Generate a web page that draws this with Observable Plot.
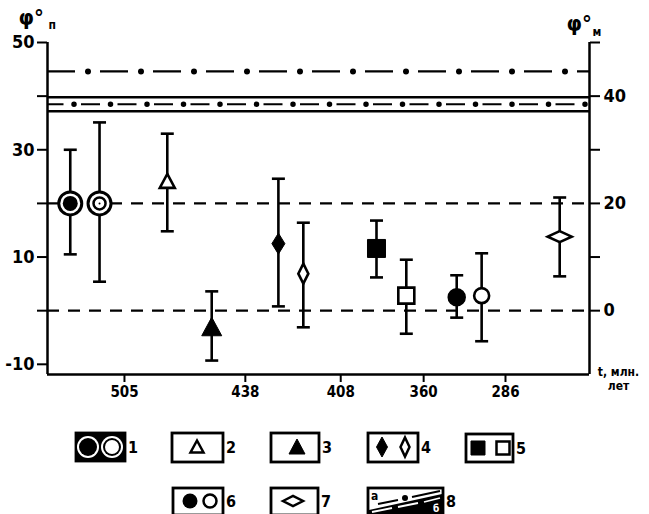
<!DOCTYPE html>
<html><head><meta charset="utf-8">
<script src="https://cdn.jsdelivr.net/npm/d3@7"></script>
<script src="https://cdn.jsdelivr.net/npm/@observablehq/plot@0.6"></script>
<style>
body{margin:0;background:#fff;}
#wrap{position:relative;width:649px;height:514px;overflow:hidden;background:#fff;}
#legend{position:absolute;left:0;top:420px;}
</style></head><body><div id="wrap"><div id="chart"></div><svg id="legend" width="649" height="94"></svg></div>
<script>
// ---- data ----
const timeTickPos = [14.2, 36.5, 54.1, 69.4, 84.5];
const timeTickLabels = ["505", "438", "408", "360", "286"];
const samplePos = [4.2, 9.6, 22.1, 30.3, 42.6, 47.2, 60.7, 66.2, 75.5, 80.1, 94.5];
const phi      = [20.0, 20.0, 24.1, -3.0, 12.5, 6.9, 11.6, 2.8, 2.5, 2.8, 13.8];
const phiHigh  = [30.0, 35.1, 33.0, 3.6, 24.6, 16.4, 16.8, 9.5, 6.6, 10.7, 21.1];
const phiLow   = [10.5, 5.4, 14.8, -9.3, 0.8, -3.1, 6.2, -4.3, -1.3, -5.7, 6.4];
const sampleGroup  = [1, 1, 2, 3, 4, 4, 5, 5, 6, 6, 7];
const sampleFilled = [true, false, false, true, true, false, true, false, true, false, false];
const lineA = [44.6];
const bandEdges = [39.8, 37.2];
const bandMid = [38.5];
const guideLines = [20, 0];
const leftTicks = [50, 40, 30, 20, 10, 0, -10];
const leftLabels = [50, 30, 10, -10];
const rightTicks = [50, 40, 30, 20, 10, 0];
const rightLabels = [40, 20, 0];
const yDomain = [-11.9, 50];
const xDomain = [0, 100];
const legendLabels = ["1", "2", "3", "4", "5", "6", "7", "8"];

// ---- build ----
const samples = samplePos.map((x, i) => ({x, phi: phi[i], hi: phiHigh[i], lo: phiLow[i], group: sampleGroup[i], filled: sampleFilled[i]}));
const FONT = '"DejaVu Sans Condensed","Liberation Sans Narrow","DejaVu Sans",sans-serif';

function shape(pts) {
  return {draw(ctx) { ctx.moveTo(pts[0][0], pts[0][1]); for (let k = 1; k < pts.length; k++) ctx.lineTo(pts[k][0], pts[k][1]); ctx.closePath(); }};
}
const capSym = {draw(ctx) { ctx.moveTo(-6.5, 0); ctx.lineTo(6.5, 0); }};
const triOpen = shape([[0, -7.5], [7.5, 6.5], [-7.5, 6.5]]);
const triFilled = shape([[0, -9.5], [10, 9], [-10, 9]]);
const vDiaFilled = shape([[0, -10.5], [6.5, 0], [0, 10.5], [-6.5, 0]]);
const vDiaOpen = shape([[0, -10], [5, 0], [0, 10], [-5, 0]]);
const hDiaOpen = shape([[-12, 0], [0, -5.5], [12, 0], [0, 5.5]]);
const sqFilled = shape([[-9, -9], [9, -9], [9, 9], [-9, 9]]);
const sqOpen = shape([[-8, -8], [8, -8], [8, 8], [-8, 8]]);

const sel = (g, f) => d => d.group === g && (f === undefined || d.filled === f);
const openStyle = {fill: "white", stroke: "black", strokeWidth: 2.6};
const fillStyle = {fill: "black", stroke: "black", strokeWidth: 1};

const chart = Plot.plot({
  width: 649, height: 420,
  marginLeft: 47, marginRight: 60, marginTop: 42, marginBottom: 46,
  style: {fontFamily: FONT, fontWeight: "bold", color: "#000", background: "#fff", overflow: "visible"},
  x: {type: "linear", domain: xDomain},
  y: {domain: yDomain},
  marks: [
    // frame lines
    Plot.ruleX([xDomain[0], xDomain[1]], {y1: yDomain[0], y2: yDomain[1], strokeWidth: 2.5}),
    Plot.ruleY([yDomain[0]], {x1: xDomain[0], x2: xDomain[1], strokeWidth: 2.5}),
    // axes
    Plot.axisY(leftTicks, {anchor: "left", label: null, tickSize: 10, tickPadding: 3, strokeWidth: 2, fontSize: 18, fontWeight: "bold",
      tickFormat: d => leftLabels.includes(d) ? String(d) : ""}),
    Plot.axisY(rightTicks, {anchor: "right", label: null, tickSize: 10, tickPadding: 4, strokeWidth: 2, fontSize: 18, fontWeight: "bold",
      tickFormat: d => rightLabels.includes(d) ? String(d) : ""}),
    Plot.axisX(timeTickPos, {anchor: "bottom", label: null, tickSize: 8, tickPadding: 4, strokeWidth: 2, fontSize: 15, fontWeight: "bold",
      tickFormat: d => timeTickLabels[timeTickPos.indexOf(d)]}),
    // reference lines
    Plot.ruleY(guideLines, {strokeWidth: 2.2, strokeDasharray: "12,9"}),
    Plot.ruleY(bandEdges, {strokeWidth: 2.5}),
    Plot.ruleY(bandMid, {strokeWidth: 2, strokeDasharray: "19,17.5", strokeDashoffset: -34}),
    Plot.ruleY(bandMid, {strokeWidth: 5.5, strokeDasharray: "0,36.5", strokeDashoffset: -27, strokeLinecap: "round"}),
    Plot.ruleY(lineA, {strokeWidth: 2.2, strokeDasharray: "28,25"}),
    Plot.ruleY(lineA, {strokeWidth: 6, strokeDasharray: "0,53", strokeDashoffset: -41, strokeLinecap: "round"}),
    // error bars
    Plot.ruleX(samples, {x: "x", y1: "lo", y2: "hi", strokeWidth: 2.6}),
    Plot.dot(samples, {x: "x", y: "hi", symbol: capSym, fill: "none", stroke: "black", strokeWidth: 2.6}),
    Plot.dot(samples, {x: "x", y: "lo", symbol: capSym, fill: "none", stroke: "black", strokeWidth: 2.6}),
    // group 1: double circles
    Plot.dot(samples, {filter: sel(1), x: "x", y: "phi", r: 11.5, fill: "white", stroke: "black", strokeWidth: 3}),
    Plot.dot(samples, {filter: sel(1, true), x: "x", y: "phi", r: 7.5, fill: "black", stroke: "none"}),
    Plot.dot(samples, {filter: sel(1, false), x: "x", y: "phi", r: 6, fill: "white", stroke: "black", strokeWidth: 2.5}),
    Plot.dot(samples, {filter: sel(1, false), x: "x", y: "phi", r: 1, fill: "black", stroke: "none"}),
    // group 2,3 triangles
    Plot.dot(samples, {filter: sel(2), x: "x", y: "phi", symbol: triOpen, ...openStyle}),
    Plot.dot(samples, {filter: sel(3), x: "x", y: "phi", symbol: triFilled, ...fillStyle}),
    // group 4 diamonds
    Plot.dot(samples, {filter: sel(4, true), x: "x", y: "phi", symbol: vDiaFilled, ...fillStyle}),
    Plot.dot(samples, {filter: sel(4, false), x: "x", y: "phi", symbol: vDiaOpen, ...openStyle}),
    // group 5 squares
    Plot.dot(samples, {filter: sel(5, true), x: "x", y: "phi", symbol: sqFilled, ...fillStyle}),
    Plot.dot(samples, {filter: sel(5, false), x: "x", y: "phi", symbol: sqOpen, ...openStyle}),
    // group 6 circles
    Plot.dot(samples, {filter: sel(6, true), x: "x", y: "phi", r: 8.5, fill: "black", stroke: "black"}),
    Plot.dot(samples, {filter: sel(6, false), x: "x", y: "phi", r: 7.5, fill: "white", stroke: "black", strokeWidth: 2.6}),
    // group 7 horizontal diamond
    Plot.dot(samples, {filter: sel(7), x: "x", y: "phi", symbol: hDiaOpen, ...openStyle}),
    // axis titles
    Plot.text(["φ°"], {frameAnchor: "top-left", dx: -29, dy: -33, textAnchor: "start", fontSize: 22, fontWeight: "bold", fontFamily: FONT}),
    Plot.text(["п"], {frameAnchor: "top-left", dx: 1, dy: -22, textAnchor: "start", fontSize: 12, fontWeight: "bold", fontFamily: FONT}),
    Plot.text(["φ°"], {frameAnchor: "top-right", dx: -23, dy: -27, textAnchor: "start", fontSize: 22, fontWeight: "bold", fontFamily: FONT}),
    Plot.text(["м"], {frameAnchor: "top-right", dx: 3, dy: -15, textAnchor: "start", fontSize: 12, fontWeight: "bold", fontFamily: FONT}),
    Plot.text(["t, млн.\nлет"], {frameAnchor: "bottom-right", dx: 29, dy: 4, textAnchor: "middle", lineAnchor: "middle", lineHeight: 1.15, fontSize: 12, fontWeight: "bold", fontFamily: FONT})
  ]
});
document.getElementById("chart").appendChild(chart);

// ---- legend ----
const L = d3.select("#legend");
function box(x0, x1, y0, y1, label, fill) {
  L.append("rect").attr("x", x0).attr("y", y0).attr("width", x1 - x0).attr("height", y1 - y0)
    .attr("fill", fill || "white").attr("stroke", "black").attr("stroke-width", 2.8);
  L.append("text").attr("x", x1 + 3).attr("y", (y0 + y1) / 2).attr("dy", "0.36em")
    .attr("font-family", FONT).attr("font-weight", "bold").attr("font-size", 16).text(label);
}
function poly(cx, cy, pts, filled) {
  L.append("path").attr("d", "M" + pts.map(p => [cx + p[0], cy + p[1]].join(",")).join("L") + "Z")
    .attr("fill", filled ? "black" : "white").attr("stroke", "black").attr("stroke-width", filled ? 1 : 2.5);
}
// row 1
box(76, 125, 13, 41, legendLabels[0], "black");
L.append("circle").attr("cx", 88).attr("cy", 27).attr("r", 11).attr("fill", "white");
L.append("circle").attr("cx", 88).attr("cy", 27).attr("r", 9).attr("fill", "black");
L.append("circle").attr("cx", 112).attr("cy", 27).attr("r", 11).attr("fill", "white");
L.append("circle").attr("cx", 112).attr("cy", 27).attr("r", 9).attr("fill", "black");
L.append("circle").attr("cx", 112).attr("cy", 27).attr("r", 7).attr("fill", "white");
box(172, 223, 13, 42, legendLabels[1]);
poly(197, 27, [[0, -6.5], [6.5, 5.5], [-6.5, 5.5]], false);
box(271, 319, 13, 42, legendLabels[2]);
poly(297, 27, [[0, -8], [8, 7], [-8, 7]], true);
box(368, 418, 13, 42, legendLabels[3]);
poly(382, 27, [[0, -10], [5.5, 0], [0, 10], [-5.5, 0]], true);
poly(405, 27, [[0, -9.5], [4.5, 0], [0, 9.5], [-4.5, 0]], false);
box(466, 513, 14, 42, legendLabels[4]);
poly(478, 28, [[-7, -7], [7, -7], [7, 7], [-7, 7]], true);
poly(503, 28, [[-6.5, -6.5], [6.5, -6.5], [6.5, 6.5], [-6.5, 6.5]], false);
// row 2
box(173, 223, 68, 95, legendLabels[5]);
L.append("circle").attr("cx", 190).attr("cy", 81).attr("r", 7.5).attr("fill", "black");
L.append("circle").attr("cx", 210).attr("cy", 81).attr("r", 6.5).attr("fill", "white").attr("stroke", "black").attr("stroke-width", 2.5);
box(271, 318, 68, 95, legendLabels[6]);
poly(293, 81, [[-10, 0], [0, -5], [10, 0], [0, 5]], false);
box(368, 443, 68, 95, legendLabels[7]);
L.append("path").attr("d", "M369,94 L369,90 L442,74 L442,94 Z").attr("fill", "black");
L.append("path").attr("d", "M372,92 L392,88 M398,87 L418,83 M424,82 L440,78").attr("stroke", "white").attr("stroke-width", 1.8);
L.append("path").attr("d", "M378,84 L398,80 M412,77 L440,71").attr("stroke", "black").attr("stroke-width", 2);
L.append("circle").attr("cx", 405).attr("cy", 78).attr("r", 3).attr("fill", "black");
L.append("text").attr("x", 371).attr("y", 80).attr("font-family", FONT).attr("font-weight", "bold").attr("font-size", 12).text("a");
L.append("text").attr("x", 433).attr("y", 92).attr("font-family", FONT).attr("font-weight", "bold").attr("font-size", 10).attr("fill", "white").text("б");
</script></body></html>
